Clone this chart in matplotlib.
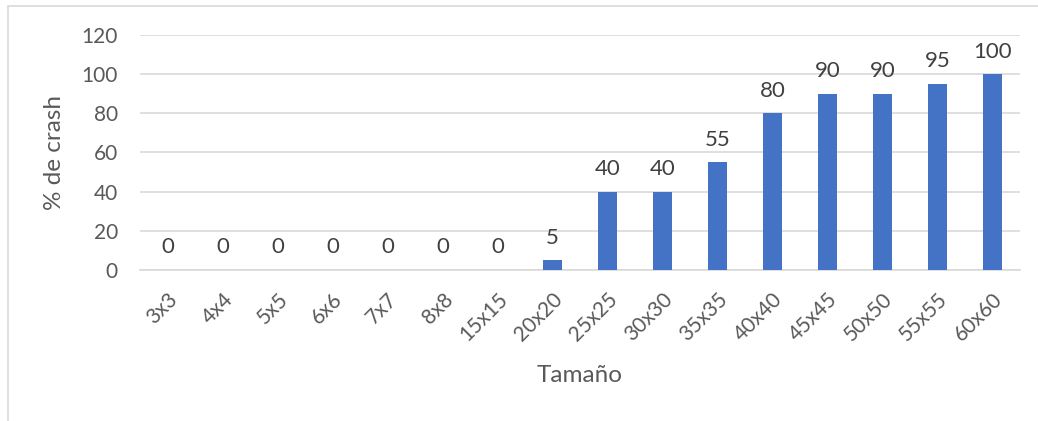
import matplotlib.pyplot as plt
from matplotlib.patches import Rectangle

plt.rcParams['font.family'] = ['Lato', 'DejaVu Sans']

sizes = ['3x3', '4x4', '5x5', '6x6', '7x7', '8x8', '15x15', '20x20',
         '25x25', '30x30', '35x35', '40x40', '45x45', '50x50', '55x55', '60x60']
crash_pct = [0, 0, 0, 0, 0, 0, 0, 5, 40, 40, 55, 80, 90, 90, 95, 100]

text_col = '#595959'
grid_col = '#D9D9D9'
bar_col = '#4472C4'

fig = plt.figure(figsize=(10.38, 4.21), dpi=100)
ax = fig.add_axes([0.1349, 0.3587, 0.8478, 0.5582])

# chart frame (only the top and left edges fall inside the image)
fig.patches.append(Rectangle((0.0077, -0.5), 1.5, 1.4857, transform=fig.transFigure,
                             fill=False, edgecolor=grid_col, linewidth=1.2))

x = range(len(sizes))
bars = ax.bar(x, crash_pct, width=0.33, color=bar_col, zorder=3)
ax.bar_label(bars, labels=[str(v) for v in crash_pct], padding=9,
             fontsize=16, color='#404040')

ax.set_xlim(-0.5, len(sizes) - 0.5)
ax.set_ylim(0, 120)
ax.set_yticks(range(0, 121, 20))
ax.yaxis.grid(True, color=grid_col, linewidth=1.2, zorder=0)
ax.set_axisbelow(True)

for side in ['top', 'right', 'left']:
    ax.spines[side].set_visible(False)
ax.spines['bottom'].set_color(grid_col)
ax.spines['bottom'].set_linewidth(1.2)

ax.set_xticks(list(x))
ax.set_xticklabels(sizes, rotation=45, ha='right', rotation_mode='anchor')
ax.tick_params(axis='both', length=0, labelsize=15, colors=text_col)
ax.tick_params(axis='y', pad=16)
ax.tick_params(axis='x', pad=14)

ax.set_xlabel('Tamaño', fontsize=17.5, color=text_col, labelpad=14)
ax.set_ylabel('% de crash', fontsize=17.5, color=text_col, labelpad=12)

fig.savefig('out.png', dpi=100)
